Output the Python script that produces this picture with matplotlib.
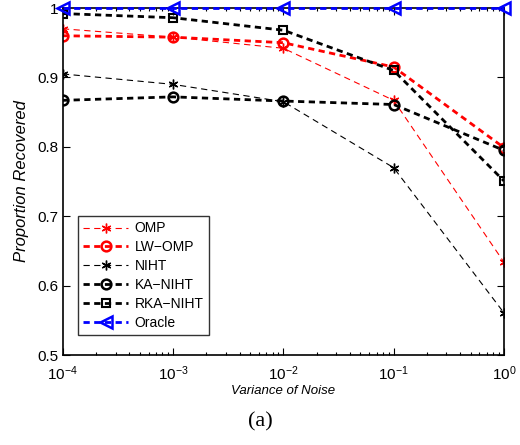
import numpy as np
import matplotlib
matplotlib.use("Agg")
import matplotlib.pyplot as plt
from matplotlib.ticker import LogLocator, NullFormatter

plt.rcParams["font.family"] = ["Liberation Sans", "DejaVu Sans"]
plt.rcParams["mathtext.fontset"] = "custom"
plt.rcParams["mathtext.rm"] = "Liberation Sans"
plt.rcParams["lines.scale_dashes"] = False

noise = [1e-4, 1e-3, 1e-2, 1e-1, 1e0]
omp = [0.970, 0.958, 0.942, 0.867, 0.634]
lw_omp = [0.960, 0.958, 0.950, 0.915, 0.799]
niht = [0.905, 0.890, 0.865, 0.770, 0.561]
ka_niht = [0.867, 0.872, 0.866, 0.861, 0.795]
rka_niht = [0.992, 0.986, 0.968, 0.910, 0.751]
oracle = [1.0, 1.0, 1.0, 1.0, 1.0]

ast = (6, 2, 0)  # asterisk like matlab '*'
dash = (4.5, 3.2)

fig = plt.figure(figsize=(5.2, 4.45), dpi=100)
ax = fig.add_axes([0.121, 0.202, 0.848, 0.780])

ax.plot(noise, omp, color="red", lw=0.8, dashes=dash, marker=ast, ms=7, mew=1.0, mec="red", label="OMP")
ax.plot(noise, lw_omp, color="red", lw=2, dashes=dash, marker="o", ms=7, mfc="none", mew=1.8, label="LW\u2212OMP")
ax.plot(noise, niht, color="black", lw=0.8, dashes=dash, marker=ast, ms=7, mew=1.0, label="NIHT")
ax.plot(noise, ka_niht, color="black", lw=2, dashes=dash, marker="o", ms=7, mfc="none", mew=1.8, label="KA\u2212NIHT")
ax.plot(noise, rka_niht, color="black", lw=2, dashes=dash, marker="s", ms=5.5, mfc="none", mew=1.5, label="RKA\u2212NIHT")
ax.plot(noise, oracle, color="blue", lw=2, dashes=dash, marker="<", ms=8, mfc="none", mew=1.8, label="Oracle",
        clip_on=False, zorder=5)

ax.set_xscale("log")
ax.set_xlim(1e-4, 1)
ax.set_ylim(0.5, 1.0)
ax.set_yticks([0.5, 0.6, 0.7, 0.8, 0.9, 1.0])
ax.set_yticklabels(["0.5", "0.6", "0.7", "0.8", "0.9", "1"])
ax.xaxis.set_minor_locator(LogLocator(base=10, subs=np.arange(2, 10)))
ax.xaxis.set_minor_formatter(NullFormatter())
ax.tick_params(which="both", direction="in", top=True, right=True, labelsize=11, width=0.8)
ax.tick_params(which="major", length=5)
ax.tick_params(which="minor", length=2.5)
ax.tick_params(axis="x", pad=7)
for s in ax.spines.values():
    s.set_linewidth(1.2)

ax.set_xlabel("Variance of Noise", fontsize=9.5, style="italic", labelpad=1)
ax.set_ylabel("Proportion Recovered", fontsize=12, style="italic", labelpad=6)

leg = ax.legend(loc="lower left", bbox_to_anchor=(0.034, 0.057), fontsize=10, frameon=True,
                fancybox=False, edgecolor="black", handlelength=3.2, borderpad=0.4,
                labelspacing=0.35, handletextpad=0.5, borderaxespad=0)
leg.get_frame().set_linewidth(1.0)

fig.text(0.5, 0.052, "(a)", ha="center", va="center", fontsize=16, family="Liberation Serif")

fig.savefig("out.png", dpi=100)
